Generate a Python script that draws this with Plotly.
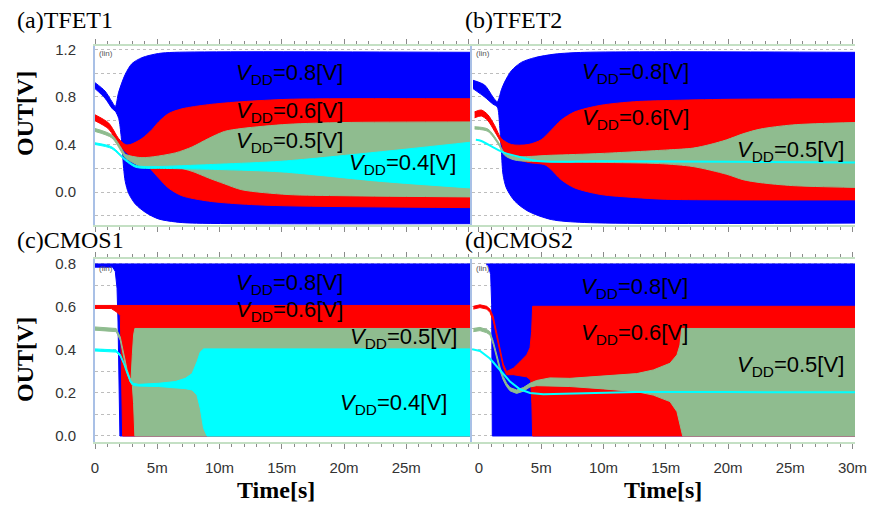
import plotly.graph_objects as go

W, H = 878, 509

BLUE = "#0000FF"
RED = "#FF0000"
GREEN = "#8FBC8F"
CYAN = "#00FFFF"

# ---------------- (a) TFET1 : time in ms, OUT in V ----------------
A_B_T_HI = [0.0, 0.8, 1.36, 1.63, 1.9, 2.43, 2.97, 3.77, 5.1, 6.4, 30.2]
A_B_HI = [0.92, 0.85, 0.76, 0.72, 0.84, 0.99, 1.08, 1.13, 1.165, 1.175, 1.175]
A_B_T_LO = [0.0, 0.8, 1.4, 1.63, 1.9, 2.1, 2.2, 2.3, 2.43, 2.7, 3.24, 4.05, 5.1, 6.45, 7.8, 30.2]
A_B_LO = [0.87, 0.79, 0.70, 0.68, 0.62, 0.47, 0.34, 0.20, 0.09, -0.01, -0.10, -0.17, -0.225, -0.25, -0.26, -0.265]

A_R_T_HI = [0.0, 1.1, 1.9, 2.43, 2.84, 3.77, 4.57, 5.11, 5.91, 6.98, 9.1, 11.8, 15.5, 20.0, 30.2]
A_R_HI = [0.65, 0.58, 0.45, 0.40, 0.40, 0.45, 0.525, 0.59, 0.66, 0.70, 0.735, 0.76, 0.78, 0.785, 0.785]
A_R_T_LO = [0.0, 1.1, 1.9, 2.43, 3.24, 3.77, 4.3, 5.1, 5.9, 6.98, 9.1, 11.8, 15.5, 30.2]
A_R_LO = [0.60, 0.53, 0.40, 0.34, 0.275, 0.23, 0.21, 0.12, 0.035, -0.03, -0.075, -0.10, -0.115, -0.13]

A_G_T = [0.0, 1.36, 2.17, 2.43, 3.77, 6.45, 7.8, 9.1, 10.4, 11.8, 15.5, 20.0, 30.2]
A_G_HI = [0.535, 0.48, 0.36, 0.32, 0.29, 0.33, 0.38, 0.45, 0.51, 0.535, 0.57, 0.585, 0.59]
A_G_LO = [0.51, 0.455, 0.33, 0.29, 0.215, 0.21, 0.175, 0.12, 0.07, 0.02, -0.02, -0.03, -0.04]

A_C_T = [0.0, 1.36, 2.43, 3.24, 4.05, 5.0, 10.0, 15.0, 23.0, 30.2]
A_C_HI = [0.415, 0.38, 0.28, 0.225, 0.215, 0.215, 0.235, 0.26, 0.34, 0.42]
A_C_LO = [0.40, 0.365, 0.265, 0.21, 0.20, 0.20, 0.19, 0.17, 0.09, 0.035]

# ---------------- (b) TFET2 ----------------
B_B_T_HI = [-0.48, 0.45, 1.12, 1.47, 1.8, 2.06, 2.6, 3.4, 4.47, 6.1, 8.5, 30.2]
B_B_HI = [0.94, 0.90, 0.80, 0.76, 0.86, 0.925, 1.02, 1.09, 1.13, 1.16, 1.175, 1.175]
B_B_T_LO = [-0.48, 0.45, 1.12, 1.47, 1.66, 1.8, 1.93, 2.2, 2.87, 3.94, 5.8, 8.5, 30.2]
B_B_LO = [0.87, 0.80, 0.74, 0.715, 0.56, 0.34, 0.15, 0.035, -0.075, -0.16, -0.23, -0.255, -0.26]

B_R_T_HI = [-0.35, 0.19, 0.72, 1.26, 1.8, 2.6, 3.94, 5.0, 5.8, 6.6, 7.7, 9.8, 12.5, 15.2, 20.0, 30.2]
B_R_HI = [0.675, 0.69, 0.65, 0.56, 0.45, 0.40, 0.40, 0.44, 0.52, 0.605, 0.675, 0.73, 0.76, 0.77, 0.78, 0.785]
B_R_T_LO = [-0.35, 0.19, 0.72, 1.26, 1.8, 2.06, 2.87, 3.94, 5.3, 5.8, 6.6, 7.7, 9.8, 12.5, 15.0, 30.2]
B_R_LO = [0.625, 0.64, 0.60, 0.51, 0.41, 0.33, 0.285, 0.25, 0.23, 0.19, 0.105, 0.035, -0.02, -0.045, -0.06, -0.065]

B_G_T_HI = [-0.35, 0.72, 1.53, 2.06, 2.87, 5.8, 9.8, 15.2, 17.2, 18.55, 19.9, 21.2, 22.6, 25.2, 30.2]
B_G_HI = [0.55, 0.53, 0.425, 0.33, 0.30, 0.31, 0.325, 0.355, 0.37, 0.40, 0.44, 0.49, 0.53, 0.565, 0.585]
B_G_T_LO = [-0.35, 0.72, 1.53, 2.06, 2.87, 5.8, 9.8, 14.5, 17.2, 19.9, 21.2, 22.6, 25.2, 30.2]
B_G_LO = [0.53, 0.51, 0.405, 0.31, 0.27, 0.255, 0.25, 0.24, 0.215, 0.15, 0.105, 0.08, 0.055, 0.04]

B_C_T = [-0.25, 0.19, 1.26, 2.06, 3.13, 4.47, 5.8, 9.8, 20.0, 30.2]
B_C = [0.44, 0.43, 0.37, 0.33, 0.30, 0.265, 0.255, 0.26, 0.255, 0.25]

# ---------------- (c) CMOS1 ----------------
C_B_T_HI = [0.0, 30.2]
C_B_HI = [0.80, 0.80]
C_B_T_LO = [0.0, 1.42, 1.63, 1.77, 1.85, 1.9, 1.95, 2.0, 30.2]
C_B_LO = [0.785, 0.785, 0.765, 0.687, 0.53, 0.377, 0.19, 0.0, 0.0]

C_R_T_HI = [0.0, 30.2]
C_R_HI = [0.607, 0.607]
C_R_T_LO = [0.0, 1.3, 1.7, 2.03, 2.11, 2.22, 30.2]
C_R_LO = [0.593, 0.593, 0.578, 0.56, 0.35, 0.0, 0.0]

C_G_T_HI = [0.0, 1.7, 2.03, 2.3, 2.57, 2.84, 2.9, 3.0, 3.1, 3.2, 30.2]
C_G_HI = [0.507, 0.50, 0.46, 0.38, 0.31, 0.265, 0.27, 0.38, 0.47, 0.50, 0.50]
C_G_T_LO = [0.0, 1.7, 2.03, 2.3, 2.57, 2.84, 3.0, 3.1, 3.2, 30.2]
C_G_LO = [0.492, 0.485, 0.445, 0.365, 0.295, 0.25, 0.235, 0.15, 0.0, 0.0]

C_C_T_HI = [0.0, 1.7, 2.03, 2.3, 2.57, 2.84, 3.1, 3.5, 5.1, 6.45, 7.25, 7.8, 8.19, 8.45, 8.72, 30.2]
C_C_HI = [0.405, 0.40, 0.38, 0.345, 0.30, 0.26, 0.245, 0.24, 0.245, 0.253, 0.268, 0.29, 0.345, 0.39, 0.405, 0.405]
C_C_T_LO = [0.0, 1.7, 2.03, 2.3, 2.57, 2.84, 3.1, 3.5, 5.1, 6.45, 7.25, 7.8, 8.19, 8.45, 8.72, 9.0, 30.2]
C_C_LO = [0.395, 0.39, 0.37, 0.335, 0.29, 0.25, 0.235, 0.232, 0.23, 0.225, 0.22, 0.214, 0.19, 0.129, 0.036, 0.0, 0.0]

# ---------------- (d) CMOS2 ----------------
D_B_T_HI = [0.6, 30.2]
D_B_HI = [0.80, 0.80]
D_B_T_LO = [0.6, 0.75, 0.94, 1.02, 1.07, 30.2]
D_B_LO = [0.795, 0.795, 0.75, 0.61, 0.0, 0.0]

D_R_T_HI = [-0.45, 0.08, 0.62, 0.88, 1.15, 1.42, 1.69, 1.95, 2.22, 2.76, 3.29, 3.83, 4.1, 4.23, 4.31, 30.2]
D_R_HI = [0.603, 0.61, 0.603, 0.59, 0.555, 0.475, 0.395, 0.335, 0.30, 0.315, 0.345, 0.377, 0.41, 0.485, 0.603, 0.603]
D_R_T_LO = [-0.45, 0.08, 0.62, 0.88, 1.15, 1.42, 1.69, 1.95, 2.22, 2.76, 3.29, 3.83, 4.15, 4.25, 4.31, 30.2]
D_R_LO = [0.59, 0.597, 0.59, 0.575, 0.535, 0.46, 0.38, 0.32, 0.285, 0.285, 0.28, 0.275, 0.26, 0.15, 0.0, 0.0]

D_G_T_HI = [-0.45, 0.08, 0.62, 0.88, 1.15, 1.42, 1.69, 1.95, 2.22, 2.49, 3.02, 3.56, 4.1, 4.63, 5.7, 7.3,
            9.98, 12.67, 14.0, 15.34, 15.9, 16.14, 16.28, 30.2]
D_G_HI = [0.50, 0.505, 0.495, 0.485, 0.44, 0.377, 0.32, 0.276, 0.245, 0.225, 0.214, 0.225, 0.245, 0.258, 0.27, 0.268,
          0.278, 0.29, 0.307, 0.338, 0.377, 0.423, 0.50, 0.50]
D_G_T_LO = [-0.45, 0.08, 0.62, 0.88, 1.15, 1.42, 1.69, 1.95, 2.22, 2.49, 3.02, 3.56, 4.1, 4.63, 7.3,
            9.98, 12.67, 14.0, 15.34, 15.9, 16.14, 16.36, 30.2]
D_G_LO = [0.485, 0.49, 0.48, 0.47, 0.425, 0.36, 0.303, 0.26, 0.23, 0.21, 0.198, 0.208, 0.228, 0.234, 0.23,
          0.219, 0.206, 0.19, 0.16, 0.113, 0.05, 0.0, 0.0]

D_C_T = [-0.55, 0.08, 0.88, 1.69, 2.49, 3.29, 4.1, 5.17, 7.3, 9.98, 12.67, 20.0, 30.2]
D_C = [0.403, 0.395, 0.36, 0.307, 0.253, 0.217, 0.20, 0.194, 0.197, 0.203, 0.205, 0.204, 0.203]

# tick labels
X_TICKS_C = [0, 5, 10, 15, 20, 25]
X_TEXT_C = ["0", "5m", "10m", "15m", "20m", "25m"]
X_TICKS_D = [0, 5, 10, 15, 20, 25, 30]
X_TEXT_D = ["0", "5m", "10m", "15m", "20m", "25m", "30m"]

fig = go.Figure()


def band(tl, lo, th, hi, color, xa, ya, shape):
    fig.add_trace(go.Scatter(x=tl, y=lo, mode="lines", xaxis=xa, yaxis=ya,
                             line=dict(color=color, width=1, shape=shape, smoothing=0.8),
                             hoverinfo="skip", showlegend=False))
    fig.add_trace(go.Scatter(x=th, y=hi, mode="lines", xaxis=xa, yaxis=ya, fill="tonexty",
                             fillcolor=color,
                             line=dict(color=color, width=1, shape=shape, smoothing=0.8),
                             hoverinfo="skip", showlegend=False))


def line(t, v, color, xa, ya, shape):
    fig.add_trace(go.Scatter(x=t, y=v, mode="lines", xaxis=xa, yaxis=ya,
                             line=dict(color=color, width=2, shape=shape, smoothing=0.8),
                             hoverinfo="skip", showlegend=False))


# (a)
band(A_B_T_LO, A_B_LO, A_B_T_HI, A_B_HI, BLUE, "x", "y", "spline")
band(A_R_T_LO, A_R_LO, A_R_T_HI, A_R_HI, RED, "x", "y", "spline")
band(A_G_T, A_G_LO, A_G_T, A_G_HI, GREEN, "x", "y", "spline")
band(A_C_T, A_C_LO, A_C_T, A_C_HI, CYAN, "x", "y", "spline")
# (b)
band(B_B_T_LO, B_B_LO, B_B_T_HI, B_B_HI, BLUE, "x2", "y2", "spline")
band(B_R_T_LO, B_R_LO, B_R_T_HI, B_R_HI, RED, "x2", "y2", "spline")
band(B_G_T_LO, B_G_LO, B_G_T_HI, B_G_HI, GREEN, "x2", "y2", "spline")
line(B_C_T, B_C, CYAN, "x2", "y2", "spline")
# (c)
band(C_B_T_LO, C_B_LO, C_B_T_HI, C_B_HI, BLUE, "x3", "y3", "linear")
band(C_R_T_LO, C_R_LO, C_R_T_HI, C_R_HI, RED, "x3", "y3", "linear")
band(C_G_T_LO, C_G_LO, C_G_T_HI, C_G_HI, GREEN, "x3", "y3", "linear")
band(C_C_T_LO, C_C_LO, C_C_T_HI, C_C_HI, CYAN, "x3", "y3", "linear")
# (d)
band(D_B_T_LO, D_B_LO, D_B_T_HI, D_B_HI, BLUE, "x4", "y4", "linear")
band(D_R_T_LO, D_R_LO, D_R_T_HI, D_R_HI, RED, "x4", "y4", "linear")
band(D_G_T_LO, D_G_LO, D_G_T_HI, D_G_HI, GREEN, "x4", "y4", "linear")
line(D_C_T, D_C, CYAN, "x4", "y4", "linear")


def px(X):
    return X / W


def py(Y):
    return 1 - Y / H


TICKFONT = dict(family="Liberation Sans, Arial, sans-serif", size=15, color="#333333")


def xaxis(dom, rng, anchor, vals, texts, show):
    return dict(domain=dom, range=rng, anchor=anchor, showline=True, linecolor="#c4e0c4", linewidth=2,
                mirror="allticks", ticks="outside", ticklen=5, tickcolor="#8a8a8a", tickwidth=1,
                tickmode="array", tickvals=vals, ticktext=texts, showticklabels=show,
                minor=dict(dtick=1, tick0=0, ticks="outside", ticklen=3, tickcolor="#8a8a8a", showgrid=False),
                showgrid=False, zeroline=False, tickfont=TICKFONT, ticklabelstandoff=6,
                automargin=False, fixedrange=True)


def yaxis(dom, rng, anchor, dtick, mdtick, show):
    return dict(domain=dom, range=rng, anchor=anchor, showline=True, linecolor="#a9c0e6", linewidth=2,
                mirror=False, ticks="", tick0=0, dtick=dtick, tickformat=".1f", showticklabels=show,
                showgrid=True, gridcolor="#bdbdbd", griddash="dot", gridwidth=1,
                minor=dict(dtick=mdtick, tick0=0, showgrid=True, gridcolor="#bdbdbd", griddash="dot"),
                zeroline=False, tickfont=TICKFONT, ticklabelstandoff=14,
                automargin=False, fixedrange=True)


XL = [px(95), px(471)]
XR = [px(472), px(855)]
YT = [py(225), py(46)]
YB = [py(442), py(259)]
RL = [0, 30.2]
RR = [-0.56, 30.2]
RYT = [-0.276, 1.228]
RYB = [-0.028, 0.823]

fig.update_layout(
    width=W, height=H,
    margin=dict(l=0, r=0, t=0, b=0, autoexpand=False),
    paper_bgcolor="white", plot_bgcolor="white",
    showlegend=False,
    xaxis=xaxis(XL, RL, "y", X_TICKS_D, X_TEXT_D, False),
    yaxis=yaxis(YT, RYT, "x", 0.4, 0.2, True),
    xaxis2=xaxis(XR, RR, "y2", X_TICKS_D, X_TEXT_D, False),
    yaxis2=yaxis(YT, RYT, "x2", 0.4, 0.2, False),
    xaxis3=xaxis(XL, RL, "y3", X_TICKS_C, X_TEXT_C, True),
    yaxis3=yaxis(YB, RYB, "x3", 0.2, 0.1, True),
    xaxis4=xaxis(XR, RR, "y4", X_TICKS_D, X_TEXT_D, True),
    yaxis4=yaxis(YB, RYB, "x4", 0.2, 0.1, False),
)

SERIF = "Liberation Serif, Times New Roman, serif"
SANS = "Liberation Sans, Arial, sans-serif"
ann = []


def text(X, Y, s, size, family, color="#000000", xanchor="center", angle=0):
    ann.append(dict(x=px(X), y=py(Y), xref="paper", yref="paper", text=s, showarrow=False,
                    xanchor=xanchor, yanchor="middle", textangle=angle,
                    font=dict(family=family, size=size, color=color)))


# panel titles
text(15, 20, "(a)TFET1", 24, SERIF, xanchor="left")
text(463, 20, "(b)TFET2", 24, SERIF, xanchor="left")
text(15, 240, "(c)CMOS1", 24, SERIF, xanchor="left")
text(463, 240, "(d)CMOS2", 24, SERIF, xanchor="left")
# axis titles
text(25, 114, "<b>OUT[V]</b>", 24, SERIF, angle=-90)
text(25, 360, "<b>OUT[V]</b>", 24, SERIF, angle=-90)
text(276, 490, "<b>Time[s]</b>", 24, SERIF)
text(663, 490, "<b>Time[s]</b>", 24, SERIF)
# (lin) markers
for X, Y in [(97, 53), (474, 53), (97, 268), (474, 268)]:
    text(X, Y, "(lin)", 8, SANS, color="#555555", xanchor="left")


def vdd(v):
    return "<i>V</i><sub>DD</sub>=" + v + "[V]"


text(289, 74, vdd("0.8"), 22, SANS)
text(289, 112, vdd("0.6"), 22, SANS)
text(289, 142, vdd("0.5"), 22, SANS)
text(402, 164, vdd("0.4"), 22, SANS)
text(635, 73, vdd("0.8"), 22, SANS)
text(635, 119, vdd("0.6"), 22, SANS)
text(790, 151, vdd("0.5"), 22, SANS)
text(289, 284, vdd("0.8"), 22, SANS)
text(289, 311, vdd("0.6"), 22, SANS)
text(403, 338, vdd("0.5"), 22, SANS)
text(393, 404, vdd("0.4"), 22, SANS)
text(634, 288, vdd("0.8"), 22, SANS)
text(634, 334, vdd("0.6"), 22, SANS)
text(790, 366, vdd("0.5"), 22, SANS)

fig.update_layout(annotations=ann)

fig.write_html("out.html", config=dict(displayModeBar=False),
               post_script="document.body.style.margin='0px';")
